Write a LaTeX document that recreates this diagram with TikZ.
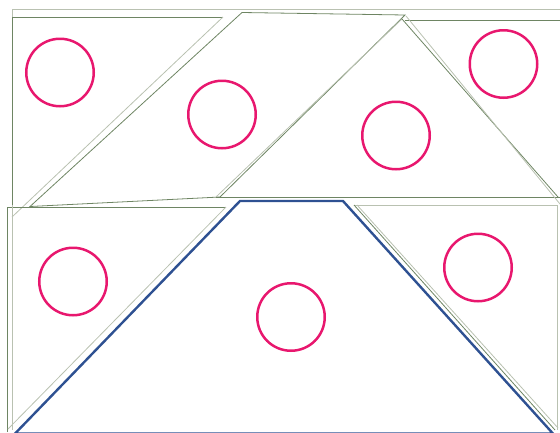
\documentclass[tikz,border=0pt]{standalone}
\begin{document}
\begin{tikzpicture}[x=1pt,y=-1pt,
  dk/.style={draw=dkgreen,line width=0.8pt},
  lt/.style={draw=ltgreen,line width=0.8pt},
  bl/.style={draw=trapblue,line width=2.4pt,line join=miter},
  ring/.style={circle,draw=ringred,line width=2.5pt,minimum size=67.5pt,inner sep=0pt}]
\definecolor{dkgreen}{HTML}{6E8563}
\definecolor{ltgreen}{HTML}{B9C1B1}
\definecolor{trapblue}{HTML}{2E5192}
\definecolor{ringred}{HTML}{E8176E}
\useasboundingbox (0,0) rectangle (560,432);
\begin{scope}
\clip (0,0) rectangle (560,432);
% outer light frame
\draw[lt] (12,17) -- (12,9.5) -- (560,9.5);
% triangle A
\draw[dk] (12,217) -- (12,17) -- (223,17);
\draw[lt] (223,17) -- (12,217);
% quadrilateral B
\draw[dk] (242,12.5) -- (405,15) -- (220,197) -- (30,206.5) -- cycle;
% triangle C
\draw[lt] (402,19) -- (216,197);
\draw[dk] (216,197) -- (560,197);
\draw[dk] (402,19) -- (558,197);
% shape D
\draw[dk] (405,20) -- (560,20);
\draw[lt] (406,16) -- (560,204);
% triangle E
\draw[dk] (7,432) -- (7,207) -- (226,207);
\draw[lt] (226,207) -- (8,429);
\draw[lt] (12,205) -- (12,430);
% blue trapezoid F
\draw[bl] (15,433.6) -- (240,201) -- (343,201) -- (553,433.6) -- cycle;
% shape G
\draw[lt] (354,205) -- (557,205) -- (557,430);
\draw[dk] (354,205) -- (555,430);
\draw[lt] (357,205) -- (558,428);
\end{scope}
% circles
\node[ring] (c1) at (60,72.5) {};
\node[ring] (c2) at (222,114.5) {};
\node[ring] (c3) at (396,135.5) {};
\node[ring] (c4) at (503.5,64) {};
\node[ring] (c5) at (73,281.5) {};
\node[ring] (c6) at (291,317) {};
\node[ring] (c7) at (478,267.5) {};
\end{tikzpicture}
\end{document}
